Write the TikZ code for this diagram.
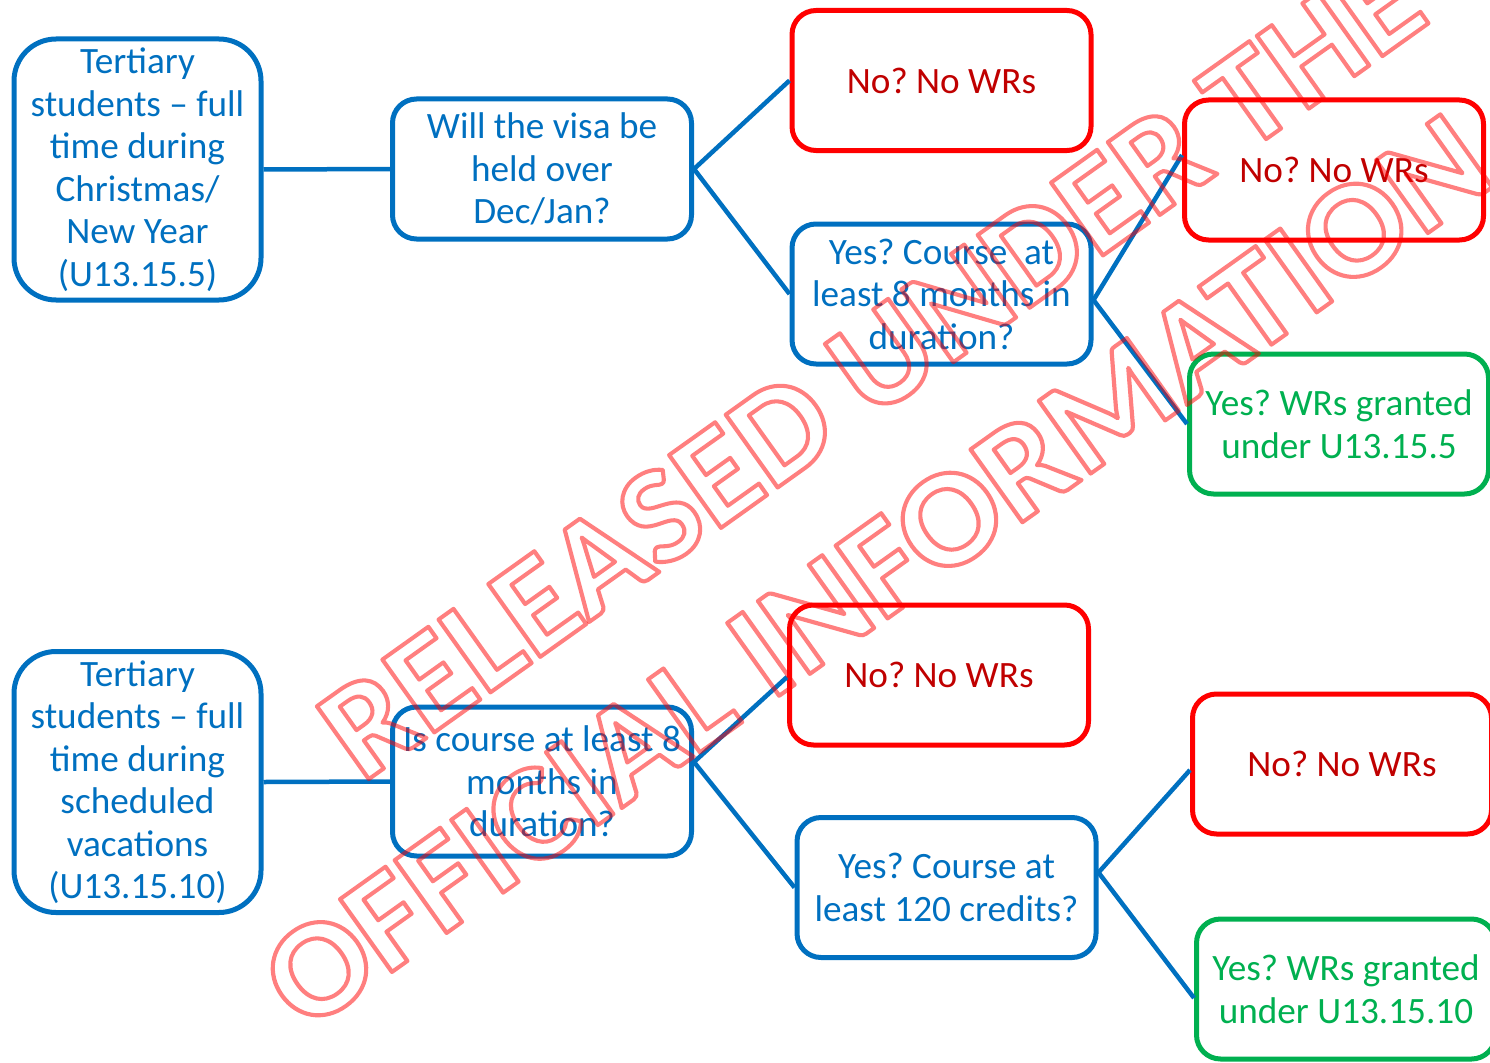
\documentclass[tikz,border=0pt]{standalone}
\usepackage{fontspec}
\setmainfont{Carlito}
\frenchspacing
\definecolor{boxblue}{RGB}{0,112,192}
\definecolor{boxred}{RGB}{255,0,0}
\definecolor{txtred}{RGB}{192,0,0}
\definecolor{boxgreen}{RGB}{0,176,80}
% hollow (stroked, unfilled) glyphs for the stamp text, widened by #1
\newcommand\hollowtext[2][1.06]{\scalebox{#1}[1]{\special{pdf:literal 1 Tr 4 w 1 j}#2\special{pdf:literal 0 Tr 0 j}}}
\begin{document}
\begin{tikzpicture}[x=1pt,y=-1pt,
  every node/.style={font=\fontsize{37.2}{42.5}\selectfont, align=center, inner sep=0pt},
  bluebox/.style={draw=boxblue, text=boxblue, line width=5pt, rounded corners=24pt,
                  minimum width=299pt, minimum height=140pt},
  redbox/.style={bluebox, draw=boxred, text=txtred},
  greenbox/.style={bluebox, draw=boxgreen, text=boxgreen},
  startbox/.style={bluebox, rounded corners=42pt, minimum width=247pt, minimum height=261pt},
  link/.style={draw=boxblue, line width=4.5pt},
  stamp/.style={anchor=base west, rotate=35.5, text=red, inner sep=0pt,
                font=\fontsize{138}{168}\selectfont\bfseries}]
\useasboundingbox (0,0) rectangle (1490,1062);

% upper tree: Christmas / New Year
\node[startbox] (A1) at (137.5,169.5) {Tertiary\\students – full\\time during\\Christmas/\\New Year\\(U13.15.5)};
\node[bluebox] (B1) at (542,169) {Will the visa be\\held over\\Dec/Jan?};
\node[redbox] (C1) at (941.5,80.5) {No? No WRs};
\node[bluebox] (D1) at (941.5,294) {Yes? Course~ at\\least 8 months in\\duration?};
\node[redbox] (E1) at (1334,170) {No? No WRs};
\node[greenbox] (F1) at (1339,424) {Yes? WRs granted\\under U13.15.5};

% lower tree: scheduled vacations
\node[startbox] (A2) at (137.5,782) {Tertiary\\students – full\\time during\\scheduled\\vacations\\(U13.15.10)};
\node[bluebox, minimum height=149pt] (B2) at (542,781.5) {Is course at least 8\\months in\\duration?};
\node[redbox] (C2) at (939,675) {No? No WRs};
\node[bluebox] (D2) at (946.5,887.5) {Yes? Course at\\least 120 credits?};
\node[redbox] (E2) at (1342,764) {No? No WRs};
\node[greenbox] (F2) at (1346,989) {Yes? WRs granted\\under U13.15.10};

% connectors
\draw[link] (A1.east) -- (B1.west);
\draw[link] (C1.west) -- (B1.east) -- (D1.west);
\draw[link] ([yshift=15pt]E1.west) -- ([yshift=-6pt]D1.east) -- (F1.west);
\draw[link] (A2.east) -- (B2.west);
\draw[link] ([yshift=-2pt]C2.west) -- ([yshift=19.5pt]B2.east) -- (D2.west);
\draw[link] ([yshift=-6pt]E2.west) -- ([yshift=15pt]D2.east) -- ([yshift=-9pt]F2.west);

% release stamp across the chart
\begin{scope}[opacity=0.5]
\node[stamp] (S1) at (362,784) {\hollowtext[1.035]{RELEASED UNDER THE}};
\node[stamp] (S2) at (305,1034) {\hollowtext{OFFICIAL INFORMATION}};
\end{scope}
\end{tikzpicture}
\end{document}
